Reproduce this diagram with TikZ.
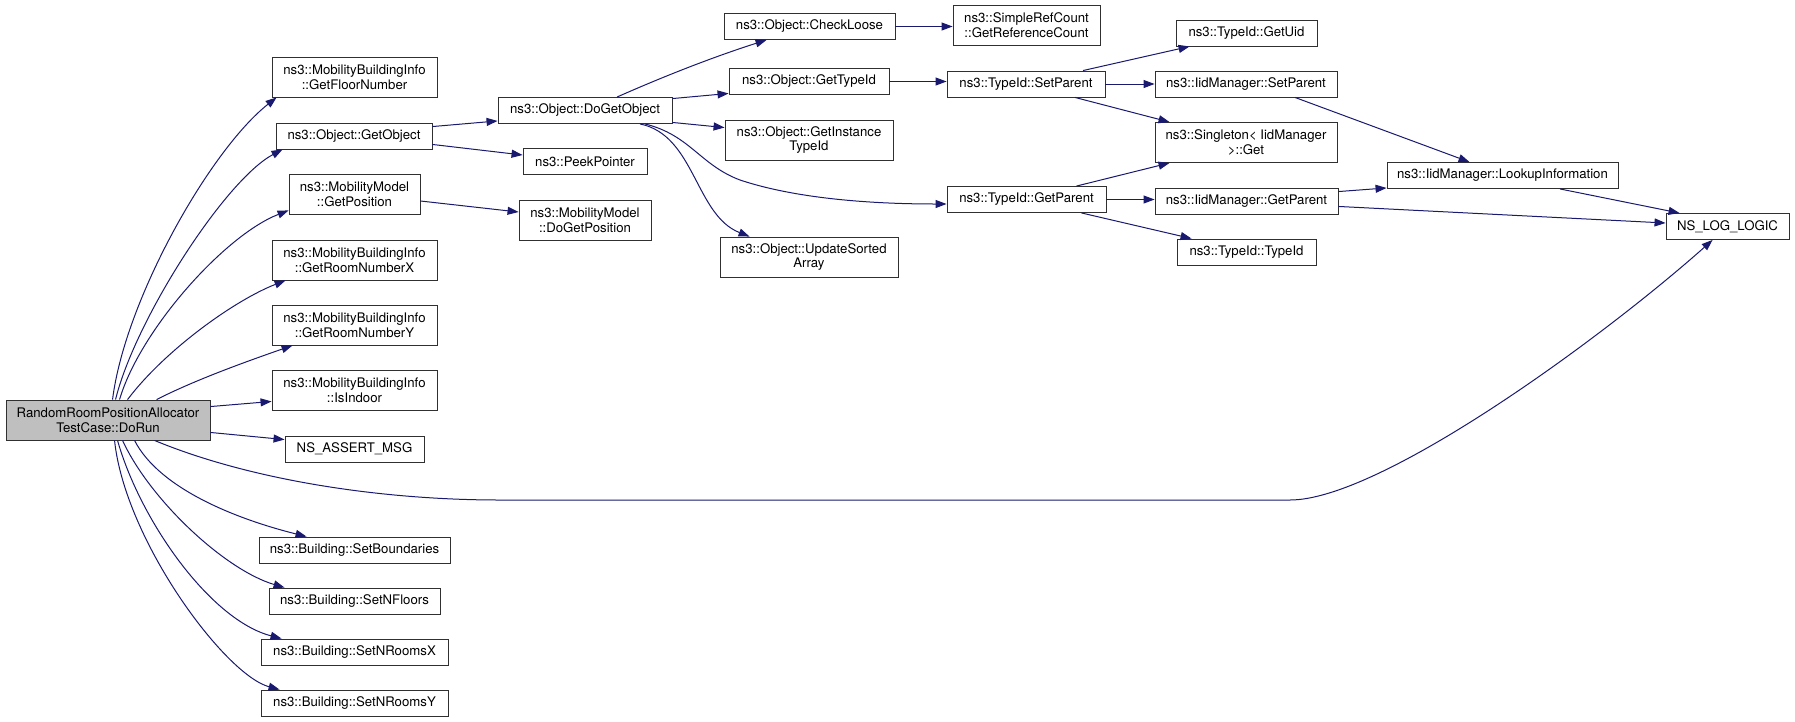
\documentclass[tikz,border=0pt]{standalone}
\usepackage{fontspec}
\setmainfont{TeX Gyre Heros}
\usetikzlibrary{arrows.meta,calc}
\definecolor{edgeblue}{HTML}{191970}
\definecolor{rootgray}{HTML}{BFBFBF}
\definecolor{boxline}{HTML}{303030}
\begin{document}
\begin{tikzpicture}[x=1pt,y=-1pt,
  box/.style={draw=boxline, line width=0.9pt, fill=white, inner sep=0pt, align=center,
    font=\fontsize{13.2}{14.7}\selectfont},
  e/.style={draw=edgeblue, line width=1pt, -{Triangle[length=11pt,width=8pt]}}]
\useasboundingbox (0,0) rectangle (1795,721);
\newcommand\mkbox[7][]{\node[box,#1, minimum width={(#5-#3)*1pt}, minimum height={(#6-#4)*1pt}] (#2) at ({(#3+#5)/2},{(#4+#6)/2}) {#7};}
% column 0
\mkbox[fill=rootgray]{root}{6}{400}{210}{440}{RandomRoomPositionAllocator\\TestCase::DoRun}
% column 1
\mkbox{gfn}{272}{57}{437}{97}{ns3::MobilityBuildingInfo\\::GetFloorNumber}
\mkbox{gob}{276}{123}{432}{149}{ns3::Object::GetObject}
\mkbox{gpos}{289}{174}{420}{214}{ns3::MobilityModel\\::GetPosition}
\mkbox{grx}{272}{240}{437}{280}{ns3::MobilityBuildingInfo\\::GetRoomNumberX}
\mkbox{gry}{272}{305}{437}{345}{ns3::MobilityBuildingInfo\\::GetRoomNumberY}
\mkbox{isin}{272}{370}{437}{410}{ns3::MobilityBuildingInfo\\::IsIndoor}
\mkbox{nsa}{285}{436}{424}{462}{NS\_ASSERT\_MSG}
\mkbox{sb}{259}{537}{450}{563}{ns3::Building::SetBoundaries}
\mkbox{snf}{269}{588}{440}{614}{ns3::Building::SetNFloors}
\mkbox{snx}{261}{639}{448}{665}{ns3::Building::SetNRoomsX}
\mkbox{sny}{261}{690}{448}{716}{ns3::Building::SetNRoomsY}
% column 2
\mkbox{dgo}{498}{97.5}{672}{123.5}{ns3::Object::DoGetObject}
\mkbox{pp}{523}{148.5}{647}{174.5}{ns3::PeekPointer}
\mkbox{dgp}{519}{200}{651}{240}{ns3::MobilityModel\\::DoGetPosition}
% column 3
\mkbox{cl}{724}{13.5}{895}{39.5}{ns3::Object::CheckLoose}
\mkbox{gti}{729}{68.5}{889}{94.5}{ns3::Object::GetTypeId}
\mkbox{giti}{725}{120}{893}{160}{ns3::Object::GetInstance\\TypeId}
\mkbox{usa}{720}{237}{898}{277}{ns3::Object::UpdateSorted\\Array}
% column 4
\mkbox{src}{953}{5}{1100}{45}{ns3::SimpleRefCount\\::GetReferenceCount}
\mkbox{tsp}{947}{71}{1105}{97}{ns3::TypeId::SetParent}
\mkbox{tgp}{947}{186.5}{1106}{212.5}{ns3::TypeId::GetParent}
% column 5
\mkbox{uid}{1176}{20}{1317}{46}{ns3::TypeId::GetUid}
\mkbox{isp}{1155}{71}{1337}{97}{ns3::IidManager::SetParent}
\mkbox{sing}{1155}{122.5}{1337}{162.5}{ns3::Singleton< IidManager\\>::Get}
\mkbox{igp}{1155}{188.5}{1338}{214.5}{ns3::IidManager::GetParent}
\mkbox{tti}{1177}{239}{1316}{265}{ns3::TypeId::TypeId}
% column 6, 7
\mkbox{lookup}{1387}{162.5}{1618}{188.5}{ns3::IidManager::LookupInformation}
\mkbox{nll}{1666}{213.5}{1789}{239.5}{NS\_LOG\_LOGIC}

% edges from root
\draw[e] ($(root.north west)+(107,0)$) .. controls (125,300) and (210,150) .. ($(gfn.south west)+(5,0)$);
\draw[e] ($(root.north west)+(110,0)$) .. controls (135,320) and (225,180) .. ($(gob.south west)+(7,0)$);
\draw[e] ($(root.north west)+(114,0)$) .. controls (140,330) and (225,235) .. ($(gpos.south west)+(0,-4)$);
\draw[e] ($(root.north west)+(122,0)$) .. controls (165,350) and (235,300) .. ($(grx.south west)+(14,0)$);
\draw[e] ($(root.north west)+(151,0)$) .. controls (195,380) and (245,362) .. ($(gry.south west)+(21,0)$);
\draw[e] ($(root.north east)+(0,7)$) -- ($(isin.south west)+(0,-9)$);
\draw[e] ($(root.south east)+(0,-8)$) -- ($(nsa.north west)+(0,4)$);
\draw[e] ($(root.south west)+(129,0)$) .. controls (160,490) and (240,520) .. ($(sb.north west)+(48,0)$);
\draw[e] ($(root.south west)+(117,0)$) .. controls (150,500) and (225,570) .. ($(snf.north west)+(16,0)$);
\draw[e] ($(root.south west)+(112,0)$) .. controls (140,520) and (210,620) .. ($(snx.north west)+(21,0)$);
\draw[e] ($(root.south west)+(109,0)$) .. controls (125,540) and (225,675) .. ($(sny.north west)+(19,0)$);
\coordinate (m1) at (500,500);
\coordinate (m2) at (1290,500);
\draw[e] ($(root.south west)+(149,0)$) .. controls (250,480) and (380,500) .. (m1) -- (m2)
  .. controls (1380,500) and (1600,340) .. ($(nll.south west)+(47,0)$);

% column 1 -> 2
\draw[e] ($(gob.north east)+(0,4)$) -- ($(dgo.south west)+(0,-3)$);
\draw[e] ($(gob.south east)+(0,-5)$) -- ($(pp.west)+(0,-6.5)$);
\draw[e] ($(gpos.east)+(0,7)$) -- ($(dgp.west)+(0,-8)$);

% column 2 -> 3/4
\draw[e] ($(dgo.north)+(32,0)$) .. controls (660,78) and (710,58) .. ($(cl.south west)+(43,0)$);
\draw[e] ($(dgo.north east)+(0,1.5)$) -- ($(gti.south west)+(0,-1.5)$);
\draw[e] ($(dgo.south east)+(0,-1.5)$) -- ($(giti.north west)+(0,8)$);
\draw[e] ($(dgo.south)+(55,0)$) .. controls (695,135) and (695,215) .. ($(usa.north west)+(30,0)$);
\draw[e] ($(dgo.south)+(60,0)$) .. controls (690,135) and (700,165) .. (740,180)
  .. controls (800,200) and (880,204) .. ($(tgp.west)+(0,4.5)$);

% column 3 -> 4
\draw[e] (cl.east) -- (cl.east -| src.west);
\draw[e] (gti.east) -- (gti.east -| tsp.west);

% column 4 -> 5
\draw[e] ($(tsp.north)+(57,0)$) -- ($(uid.south west)+(14,0)$);
\draw[e] (tsp.east) -- (tsp.east -| isp.west);
\draw[e] ($(tsp.south)+(49,0)$) -- ($(sing.north west)+(15,0)$);
\draw[e] ($(tgp.north)+(50,0)$) -- ($(sing.south west)+(15,0)$);
\draw[e] (tgp.east) -- (tgp.east -| igp.west);
\draw[e] ($(tgp.south)+(55,0)$) -- ($(tti.north west)+(15,0)$);

% column 5 -> 6/7
\draw[e] ($(isp.south)+(49,0)$) -- ($(lookup.north west)+(83,0)$);
\draw[e] ($(igp.north east)+(0,3.5)$) -- ($(lookup.south west)+(0,-1)$);
\draw[e] ($(igp.south east)+(0,-8.5)$) -- ($(nll.west)+(0,-3.5)$);
\draw[e] ($(lookup.south)+(57.5,0)$) -- ($(nll.north west)+(14,0)$);
\end{tikzpicture}
\end{document}
